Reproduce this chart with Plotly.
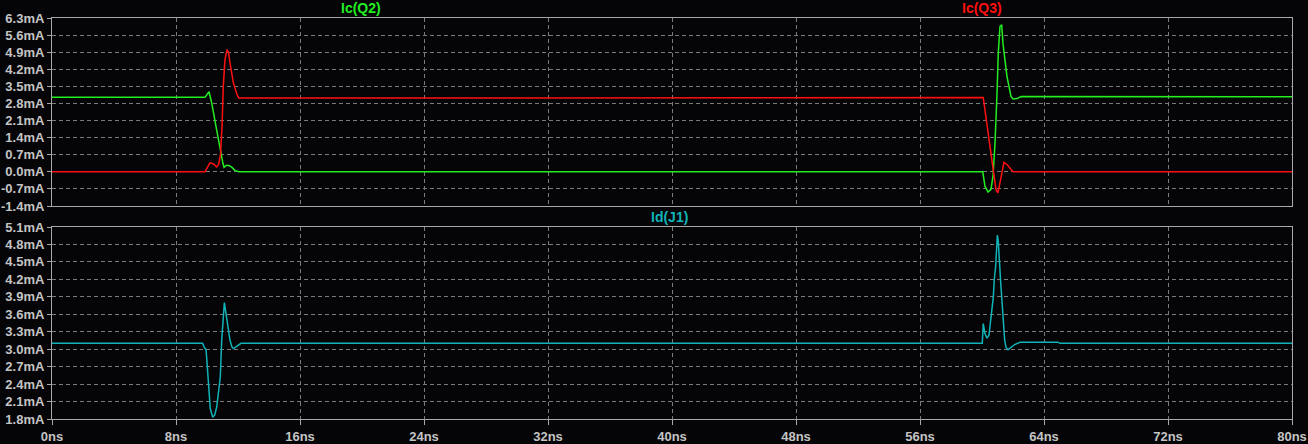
import plotly.graph_objects as go
from plotly.subplots import make_subplots

# ---- data (time in ns, current in mA) ----
t_q2 = [0, 9.87, 10.13, 10.30, 10.58, 10.84, 10.97, 11.03, 11.10, 11.23,
        11.42, 11.61, 11.81, 12.06, 60.05, 60.19, 60.39, 60.58, 60.71, 60.84,
        60.97, 61.05, 61.16, 61.27, 61.35, 61.48, 61.61, 61.74, 61.87, 62.00,
        62.26, 62.52, 80]
ic_q2 = [3.05, 3.05, 3.28, 2.83, 1.86, 0.91, 0.50, 0.34, 0.18, 0.26,
         0.26, 0.18, 0.05, 0.0, 0.0, -0.59, -0.83, -0.72, -0.18, 1.18,
         3.23, 4.86, 5.95, 6.02, 5.27, 4.59, 3.91, 3.50, 3.09, 2.98,
         3.00, 3.08, 3.07]

t_q3 = [0, 9.87, 10.19, 10.39, 10.63, 10.75, 10.87, 10.97, 11.05, 11.16,
        11.29, 11.39, 11.48, 11.70, 11.94, 12.06, 60.08, 60.19, 60.32, 60.52,
        60.71, 60.90, 61.03, 61.16, 61.29, 61.42, 61.61, 61.81, 62.00, 80]
ic_q3 = [0, 0, 0.37, 0.33, 0.20, 0.30, 0.70, 1.86, 3.50, 4.60,
         5.00, 4.90, 4.47, 3.65, 3.16, 3.02, 3.04, 2.55, 1.86, 1.05,
         0.23, -0.72, -0.86, -0.45, 0.09, 0.39, 0.30, 0.12, 0.0, 0.0]

t_j1 = [0, 9.72, 9.81, 9.94, 10.02, 10.11, 10.21, 10.37, 10.50, 10.63,
        10.75, 10.86, 10.95, 11.03, 11.12, 11.21, 11.29, 11.40, 11.48, 11.61,
        11.70, 11.87, 12.19, 60.02, 60.05, 60.08, 60.19, 60.32, 60.45, 60.56,
        60.65, 60.73, 60.79, 60.88, 60.95, 60.99, 61.05, 61.12, 61.21, 61.27,
        61.33, 61.40, 61.46, 61.55, 61.68, 61.87, 62.11, 62.45, 64.90, 65.03,
        80]
id_j1 = [3.10, 3.10, 3.04, 2.99, 2.70, 2.36, 1.98, 1.83, 1.87, 2.01,
         2.30, 2.53, 3.16, 3.56, 3.80, 3.64, 3.50, 3.33, 3.16, 3.04,
         3.01, 3.04, 3.10, 3.10, 3.39, 3.44, 3.27, 3.19, 3.24, 3.50,
         3.67, 3.90, 4.19, 4.42, 4.76, 4.96, 4.85, 4.42, 4.13, 3.90,
         3.67, 3.39, 3.16, 3.03, 2.99, 3.03, 3.08, 3.12, 3.12, 3.10,
         3.10]

x_ticks = [0, 8, 16, 24, 32, 40, 48, 56, 64, 72, 80]
x_labels = ["0ns", "8ns", "16ns", "24ns", "32ns", "40ns", "48ns", "56ns", "64ns", "72ns", "80ns"]
top_ticks = [-1.4, -0.7, 0.0, 0.7, 1.4, 2.1, 2.8, 3.5, 4.2, 4.9, 5.6, 6.3]
top_labels = ["-1.4mA", "-0.7mA", "0.0mA", "0.7mA", "1.4mA", "2.1mA", "2.8mA",
              "3.5mA", "4.2mA", "4.9mA", "5.6mA", "6.3mA"]
bot_ticks = [1.8, 2.1, 2.4, 2.7, 3.0, 3.3, 3.6, 3.9, 4.2, 4.5, 4.8, 5.1]
bot_labels = ["1.8mA", "2.1mA", "2.4mA", "2.7mA", "3.0mA", "3.3mA", "3.6mA",
              "3.9mA", "4.2mA", "4.5mA", "4.8mA", "5.1mA"]

GREEN = "#22ee22"
RED = "#ff1010"
CYAN = "#10b4b8"
BG = "#050508"
AXIS = "#a8a8a8"
GRID = "#7a7a7a"
TXT = "#c4c4c4"

H, W = 444, 1308
mt, mb, ml, mr = 18, 25, 52, 16
ph = H - mt - mb
top_dom = [(419 - 206) / ph, 1.0]
bot_dom = [0.0, (419 - 227) / ph]

fig = make_subplots(rows=2, cols=1, shared_xaxes=True)
fig.add_trace(go.Scatter(x=t_q2, y=ic_q2, mode="lines", line=dict(color=GREEN, width=1.5),
                         name="Ic(Q2)"), row=1, col=1)
fig.add_trace(go.Scatter(x=t_q3, y=ic_q3, mode="lines", line=dict(color=RED, width=1.5),
                         name="Ic(Q3)"), row=1, col=1)
fig.add_trace(go.Scatter(x=t_j1, y=id_j1, mode="lines", line=dict(color=CYAN, width=1.5),
                         name="Id(J1)"), row=2, col=1)

tickfont = dict(family="Liberation Sans, Arial", size=13, color=TXT, weight="bold")
common_x = dict(range=[0, 80], tickvals=x_ticks, ticktext=x_labels,
                showgrid=True, gridcolor=GRID, griddash="4px,3px", gridwidth=1,
                showline=True, linecolor=AXIS, linewidth=1, mirror=True,
                zeroline=False, tickfont=tickfont, automargin=False)
fig.update_xaxes(**common_x, showticklabels=False, ticks="", row=1, col=1)
fig.update_xaxes(**common_x, showticklabels=True, ticks="outside", ticklen=5,
                 tickcolor=AXIS, row=2, col=1)
common_y = dict(showgrid=True, gridcolor=GRID, griddash="4px,3px", gridwidth=1,
                showline=True, linecolor=AXIS, linewidth=1, mirror=True,
                zeroline=False, ticks="outside", ticklen=4, tickcolor=AXIS,
                tickfont=tickfont, automargin=False)
fig.update_yaxes(**common_y, range=[-1.4, 6.3], tickvals=top_ticks, ticktext=top_labels,
                 domain=top_dom, row=1, col=1)
fig.update_yaxes(**common_y, range=[1.8, 5.1], tickvals=bot_ticks, ticktext=bot_labels,
                 domain=bot_dom, row=2, col=1)

titlefont = dict(family="Liberation Sans, Arial", size=14, weight="bold")
ann = [
    ("Ic(Q2)", (361 - ml) / 1240, GREEN, (419 - 8) / ph),
    ("Ic(Q3)", (982 - ml) / 1240, RED, (419 - 8) / ph),
    ("Id(J1)", (669 - ml) / 1240, CYAN, (419 - 217) / ph),
]
for text, xp, col, yp in ann:
    fig.add_annotation(text=text, x=xp, y=yp, xref="paper", yref="paper",
                       showarrow=False, xanchor="center", yanchor="middle",
                       font=dict(color=col, **titlefont))

fig.update_layout(width=W, height=H, margin=dict(t=mt, b=mb, l=ml, r=mr),
                  paper_bgcolor=BG, plot_bgcolor=BG, showlegend=False)
fig.write_html("out.html",
               config={"displayModeBar": False},
               post_script="document.body.style.margin='0px';"
                           "document.body.style.overflow='hidden';"
                           "document.body.style.background='" + BG + "';")
